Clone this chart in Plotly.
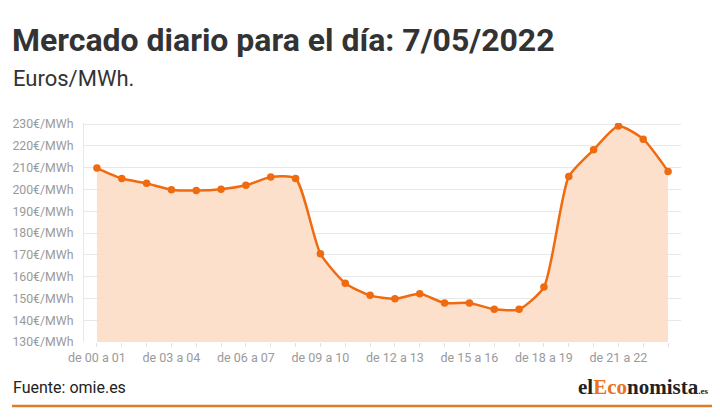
import plotly.graph_objects as go

# Precio horario (€/MWh), 7/05/2022
horas = [f"de {h:02d} a {h + 1:02d}" for h in range(24)]
precios = [209.8, 205.0, 202.8, 199.9, 199.5, 200.1, 201.9, 205.7, 205.0, 170.5, 157.0, 151.4,
           149.8, 152.1, 147.9, 147.9, 145.0, 145.0, 155.2, 205.9, 218.2, 229.1, 223.1, 208.3]
tick_idx = list(range(0, 24, 3))
y_ticks = list(range(130, 231, 10))

NARANJA = "#f06a0f"
GRIS = "#9a9a9a"

# the page body has an 8px margin, so the figure is 712x412
W, H = 712, 412
L, R, T, B = 76, 39, 115, 78
PW, PH = W - L - R, H - T - B


def px(fx):
    return (fx - L) / PW


def py(fy):
    return (H - B - fy) / PH


fig = go.Figure()
fig.add_trace(go.Scatter(
    x=list(range(len(horas))), y=precios, mode="lines+markers",
    line=dict(color=NARANJA, width=2.5, shape="spline", smoothing=0.6),
    marker=dict(color=NARANJA, size=7.5),
    fill="tozeroy", fillcolor="rgba(253,221,199,0.9)",
    hoverinfo="y", showlegend=False,
))

fig.update_layout(
    width=W, height=H,
    margin=dict(l=L, r=R, t=T, b=B),
    paper_bgcolor="white", plot_bgcolor="white",
    font=dict(family="Roboto, sans-serif", color="#333"),
    xaxis=dict(
        range=[-0.52, 23.52],
        tickmode="array",
        tickvals=list(range(24)),
        ticktext=[horas[i] if i in tick_idx else "" for i in range(24)],
        tickangle=0,
        tickfont=dict(size=12.5, color=GRIS),
        ticks="outside", ticklen=4, tickcolor="#e2e2e2",
        showgrid=False, showline=False, zeroline=False,
        automargin=False,
    ),
    yaxis=dict(
        range=[130, 230.5],
        tickmode="array",
        tickvals=y_ticks,
        ticktext=[f"{v}€/MWh" for v in y_ticks],
        tickfont=dict(size=12.3, color=GRIS),
        gridcolor="#e8e8e8", gridwidth=1,
        showline=True, linecolor="#e8e8e8", linewidth=1,
        zeroline=False, ticks="outside", ticklen=7, tickcolor="rgba(0,0,0,0)",
        automargin=False,
    ),
    annotations=[
        dict(text="<b>Mercado diario para el día: 7/05/2022</b>", xref="paper", yref="paper",
             x=px(2), y=py(32), xanchor="left", yanchor="middle", showarrow=False,
             font=dict(size=32, color="#333")),
        dict(text="Euros/MWh.", xref="paper", yref="paper",
             x=px(3), y=py(70), xanchor="left", yanchor="middle", showarrow=False,
             font=dict(size=22, color="#333")),
        dict(text="Fuente: omie.es", xref="paper", yref="paper",
             x=px(3), y=py(379), xanchor="left", yanchor="middle", showarrow=False,
             font=dict(size=16, color="#222")),
        dict(text="<b>el<span style='color:#e8731f'>Eco</span>nomista<span style='font-size:9px'>.es</span></b>",
             xref="paper", yref="paper",
             x=px(702), y=py(379), xanchor="right", yanchor="middle", showarrow=False,
             font=dict(size=21, color="#222", family="Liberation Serif, serif")),
    ],
    shapes=[
        dict(type="line", xref="paper", yref="paper", x0=px(4), x1=px(704),
             y0=py(398), y1=py(398), line=dict(color="#e07b29", width=2.5)),
    ],
)

fig.write_html("out.html")
